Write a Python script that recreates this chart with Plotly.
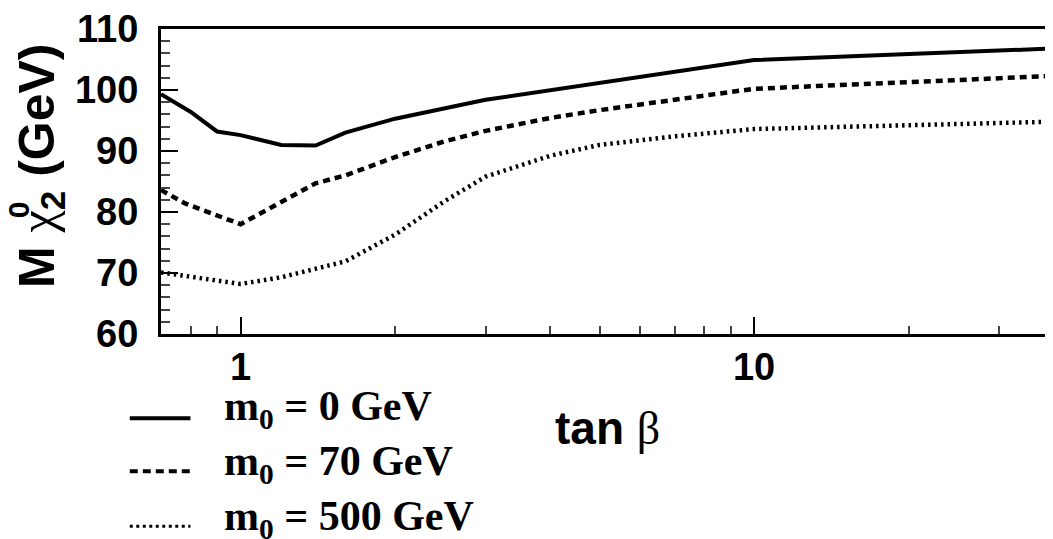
import plotly.graph_objects as go
import numpy as np

# tan(beta) sample points and neutralino mass (GeV) for each m0
tanb_m0_0 = [0.7, 0.8, 0.9, 1.0, 1.2, 1.4, 1.6, 2.0, 3.0, 10.0, 38.0]
mass_m0_0 = [99.3, 96.4, 93.2, 92.6, 91.0, 90.9, 93.0, 95.3, 98.4, 104.9, 106.8]

tanb_m0_70 = [0.7, 0.78, 1.0, 1.4, 1.6, 2.0, 2.5, 3.0, 4.0, 5.0, 7.0, 10.0, 38.0]
mass_m0_70 = [83.6, 81.4, 78.0, 84.7, 86.0, 89.0, 91.6, 93.3, 95.4, 96.7, 98.4, 100.2, 102.3]

tanb_m0_500 = [0.7, 0.8, 1.0, 1.2, 1.6, 2.0, 2.5, 3.0, 4.0, 5.0, 7.0, 10.0, 38.0]
mass_m0_500 = [70.1, 69.4, 68.2, 69.3, 71.9, 76.3, 81.8, 85.8, 89.2, 91.0, 92.4, 93.6, 94.8]

legend_labels = ["m<sub>0</sub> = 0 GeV", "m<sub>0</sub> = 70 GeV", "m<sub>0</sub> = 500 GeV"]
dashes = ["solid", "7px,5px", "2.5px,4px"]
legend_dashes = ["solid", "8px,5px", "3px,3.5px"]
widths = [4, 4.5, 4.5]

x_major = [1, 10]
x_minor = [0.8, 0.9, 2, 3, 4, 5, 6, 7, 8, 9, 20, 30]

fig = go.Figure()

series = [(tanb_m0_0, mass_m0_0), (tanb_m0_70, mass_m0_70), (tanb_m0_500, mass_m0_500)]
for (xs, ys), dash, w, name in zip(series, dashes, widths, legend_labels):
    fig.add_trace(go.Scatter(x=xs, y=ys, mode='lines', name=name,
                             line=dict(color='black', width=w, dash=dash),
                             showlegend=False))

sans = dict(family='Liberation Sans, Arial, sans-serif', size=38, color='black', weight='bold')

# page body adds ~8px offset, so margins are shifted back by that much
fig.update_layout(
    width=1053, height=539,
    margin=dict(l=153, r=8, t=21, b=213),
    paper_bgcolor='white', plot_bgcolor='white',
    showlegend=False,
    font=sans,
)

fig.update_xaxes(type='log', range=[np.log10(0.7), np.log10(38.2)], automargin=False,
                 showline=True, linewidth=3, linecolor='black', mirror=True,
                 showgrid=False, zeroline=False,
                 ticks='inside', ticklen=17, tickwidth=1.5, tickcolor='black',
                 tickmode='array', tickvals=x_major, ticktext=['1', '10'],
                 tickfont=sans, ticklabelstandoff=-3,
                 minor=dict(ticks='inside', ticklen=8, tickwidth=1.5, tickcolor='#444',
                            tickvals=x_minor, showgrid=False))

fig.update_yaxes(range=[60, 110], automargin=False,
                 showline=True, linewidth=3, linecolor='black', mirror=False,
                 showgrid=False, zeroline=False,
                 ticks='inside', ticklen=17, tickwidth=1.5, tickcolor='black',
                 dtick=10, tickfont=sans, ticklabelstandoff=12,
                 minor=dict(ticks='inside', ticklen=9, tickwidth=1.5, tickcolor='#444',
                            dtick=2, showgrid=False))

serif_span = "<span style='font-family:Liberation Serif;font-weight:normal'>{}</span>"

# axis titles as annotations (stacked sub/superscript on chi)
fig.add_annotation(xref='paper', yref='paper', x=-0.1345, y=0.551,
                   xanchor='center', yanchor='middle',
                   textangle=-90, showarrow=False,
                   text="<b>M " + serif_span.format('χ') + "<sub>2</sub> (GeV)</b>",
                   font=dict(family='Liberation Sans', size=50, color='black'))
fig.add_annotation(xref='paper', yref='paper', x=-0.159, y=0.4066,
                   xanchor='center', yanchor='middle',
                   textangle=-90, showarrow=False, text="<b>0</b>",
                   font=dict(family='Liberation Sans', size=30, color='black'))
fig.add_annotation(xref='paper', yref='paper', x=0.50, y=-0.308,
                   xanchor='center', yanchor='middle', showarrow=False,
                   text="<b>tan</b> " + serif_span.format('β'),
                   font=dict(family='Liberation Sans', size=46, color='black'))

# hand-drawn legend below the axes
line_y = [-0.276, -0.450, -0.630]
text_y = [-0.246, -0.426, -0.607]
for name, dash, ly, ty in zip(legend_labels, legend_dashes, line_y, text_y):
    fig.add_shape(type='line', xref='paper', yref='paper',
                  x0=-0.035, x1=0.033, y0=ly, y1=ly,
                  line=dict(color='black', width=4 if dash != '3px,3.5px' else 3, dash=dash))
    fig.add_annotation(xref='paper', yref='paper', x=0.068, y=ty,
                       xanchor='left', yanchor='middle', showarrow=False,
                       text='<b>' + name + '</b>',
                       font=dict(family='Liberation Serif, Times New Roman, serif', size=42, color='black'))

fig.write_html("out.html")
